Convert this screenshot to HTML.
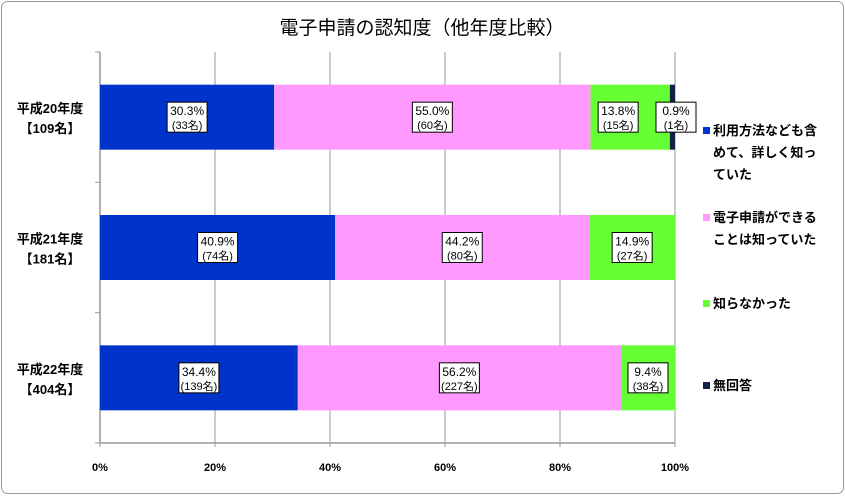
<!DOCTYPE html>
<html><head><meta charset="utf-8"><style>
body{margin:0;background:#fff;}
svg text{font-family:"Liberation Sans","Noto Sans CJK JP",sans-serif;}
</style></head><body>
<svg width="845" height="495" xmlns="http://www.w3.org/2000/svg">
<rect x="1.5" y="1.5" width="842" height="492" rx="6" fill="#fff" stroke="#999"/>
<text x="422" y="34" font-size="19" text-anchor="middle" fill="#000">電子申請の認知度（他年度比較）</text>
<g id="plot"></g>
<g id="legend"></g>
<script>
const categories=["平成20年度|【109名】","平成21年度|【181名】","平成22年度|【404名】"];
const pct1=[30.3,40.9,34.4];
const pct2=[55.0,44.2,56.2];
const pct3=[13.8,14.9,9.4];
const pct4=[0.9,0,0];
const cnt1=[33,74,139];
const cnt2=[60,80,227];
const cnt3=[15,27,38];
const cnt4=[1,0,0];
const seriesNames=["利用方法なども含|めて、詳しく知っ|ていた","電子申請ができる|ことは知っていた","知らなかった","無回答"];
const colors=["#0033cc","#ff99ff","#66ff33","#112244"];
const xTicks=[0,20,40,60,80,100];
const NS="http://www.w3.org/2000/svg";
const X0=100,X1=675,Y0=52,Y1=443;
const xs=v=>X0+(X1-X0)*v/100;
const band=(Y1-Y0)/categories.length;
const yc=i=>Y0+band*(i+0.5);
const BH=65;
function mk(t,a,p){const e=document.createElementNS(NS,t);for(const k in a)e.setAttribute(k,a[k]);(p||plot).appendChild(e);return e;}
const plot=document.getElementById('plot');
xTicks.forEach(t=>{
 const g=mk('line',{x1:xs(t),x2:xs(t),y1:Y0,y2:Y1+4,stroke:'#999','stroke-width':1});
 
 
 const l=mk('text',{x:xs(t),y:Y1+28,'font-size':11,'font-weight':'bold','text-anchor':'middle'});
 l.textContent=t+'%';
 
 
});
const ax=mk('line',{x1:X0,x2:X1,y1:Y1,y2:Y1,stroke:'#999','stroke-width':1.5});


const ay=mk('line',{x1:X0,x2:X0,y1:Y0,y2:Y1,stroke:'#999','stroke-width':1.5});


for(let i=0;i<=categories.length;i++){
 const tk=mk('line',{x1:X0-5,x2:X0,y1:Y0+band*i,y2:Y0+band*i,stroke:'#999'});
 
 
}
const P=[pct1,pct2,pct3,pct4],C=[cnt1,cnt2,cnt3,cnt4];
categories.forEach((c,i)=>{
 const parts=c.split('|');
 parts.forEach((s,j)=>{
  const t=mk('text',{x:50,y:yc(i)-4+j*20,'font-size':13,'font-weight':'bold','text-anchor':'middle'});
  t.textContent=s;
  
  
 });
 let acc=0;
 const labels=[];
 P.forEach((arr,s)=>{
  const v=arr[i]; if(!v){return;}
  const r=mk('rect',{x:xs(acc),y:yc(i)-BH/2,width:xs(acc+v)-xs(acc),height:BH,fill:colors[s]});
  
  
  labels.push([s,acc+v/2,v,C[s][i]]);
  acc+=v;
 });
 labels.forEach(([s,mid,v,n],k)=>{
  let cx=xs(mid);
  if(s===3){cx=xs(100)+1;}
  else if(s===2 && P[3][i]){cx=xs(mid)-12;}
  const w=40,h=30;
  const b=mk('rect',{x:cx-w/2,y:yc(i)-h/2,width:w,height:h,fill:'#fff',stroke:'#000','stroke-width':1});
  
  
  const t1=mk('text',{x:cx,y:yc(i)-2,'font-size':12,'text-anchor':'middle'});
  t1.textContent=v.toFixed(1)+'%';
  
  
  const t2=mk('text',{x:cx,y:yc(i)+12,'font-size':11,'text-anchor':'middle'});
  t2.textContent='('+n+'名)';
  
  
 });
});
const lg=document.getElementById('legend');
const ly=[135,222,308,390];
seriesNames.forEach((nm,s)=>{
 const r=mk('rect',{x:703,y:ly[s]-8,width:7,height:7,fill:colors[s]},lg);
 
 
 nm.split('|').forEach((line,j)=>{
  const t=mk('text',{x:713,y:ly[s]+j*22,'font-size':13,'font-weight':'bold'},lg);
  t.textContent=line;
  
  
 });
});
</script>
</svg>
</body></html>
